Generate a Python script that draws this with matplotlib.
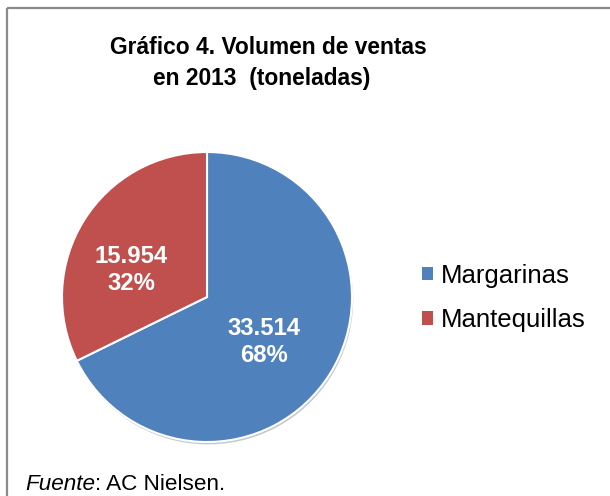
import matplotlib
matplotlib.use('Agg')
from matplotlib import pyplot as plt
from matplotlib.patches import Patch, Rectangle

plt.rcParams['font.family'] = ['Liberation Sans', 'DejaVu Sans']

categorias = ['Margarinas', 'Mantequillas']
toneladas = [33514, 15954]
colores = ['#4F81BD', '#C0504D']
titulo = ['Gráfico 4. Volumen de ventas', 'en 2013  (toneladas)']

total = sum(toneladas)

W, H = 610, 496
fig = plt.figure(figsize=(W / 100, H / 100), dpi=100)

# fondo con el marco gris
bg = fig.add_axes([0, 0, 1, 1])
bg.set_xlim(0, W)
bg.set_ylim(H, 0)
bg.axis('off')
bg.add_patch(Rectangle((7, 8), W + 20, H + 20, fill=False, edgecolor='#8a8a8a', linewidth=1.6))

bg.text(268, 48, titulo[0], ha='center', va='center', fontsize=16.4, fontweight='bold')
bg.text(262, 79, titulo[1], ha='center', va='center', fontsize=16.4, fontweight='bold')

t1 = bg.text(25, 484, 'Fuente', ha='left', va='center', fontsize=16.2, style='italic')
bg.annotate(': AC Nielsen.', xy=(1, 0), xycoords=t1, ha='left', va='bottom', fontsize=16.2)

# tarta
cx, cy, r = 207, 297, 145
lim = 1.02
ax = fig.add_axes([(cx - r * lim) / W, (H - cy - r * lim) / H, 2 * r * lim / W, 2 * r * lim / H])
wedges, _ = ax.pie(toneladas, colors=colores, startangle=90, counterclock=False,
                   wedgeprops=dict(edgecolor='white', linewidth=1.5),
                   shadow=dict(ox=0.006, oy=-0.012, alpha=0.25, edgecolor='none'))
ax.set_xlim(-lim, lim)
ax.set_ylim(-lim, lim)

pos_etiquetas = [(0.393, -0.31), (-0.524, 0.186)]
for v, (x, y) in zip(toneladas, pos_etiquetas):
    txt = f"{v:,}".replace(',', '.') + f"\n{round(100 * v / total)}%"
    ax.text(x, y, txt, ha='center', va='center', color='white', fontsize=17.2,
            fontweight='bold', linespacing=1.22)

handles = [Patch(facecolor=c, edgecolor='none') for c in colores]
fig.legend(handles, categorias, loc='center left',
           bbox_to_anchor=(399 / W, (H - 298) / H), frameon=False, fontsize=18.5,
           handlelength=0.43, handleheight=0.43, handletextpad=0.3, labelspacing=0.8)

fig.savefig('out.png', dpi=100)
